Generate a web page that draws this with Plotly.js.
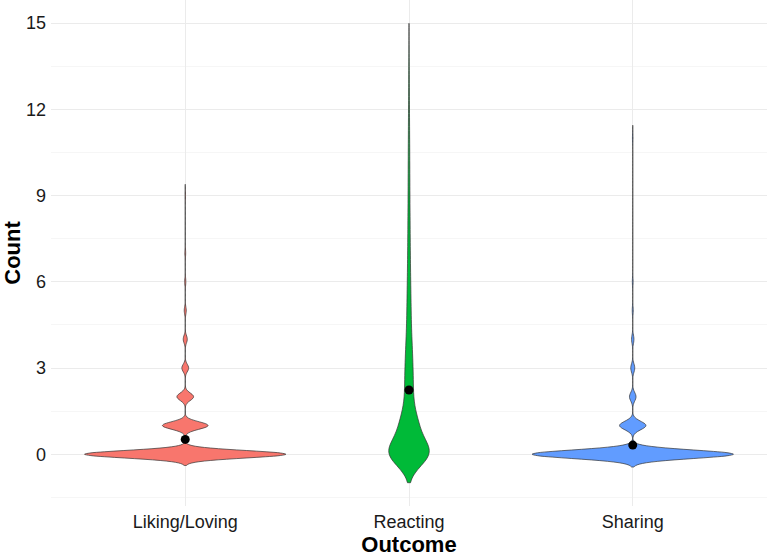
<!DOCTYPE html>
<html><head><meta charset="utf-8">
<script src="https://cdn.plot.ly/plotly-3.0.1.min.js"></script>
<style>html,body{margin:0;padding:0;background:#fff}#chart{width:767px;height:557px}</style>
</head><body><div id="chart"></div>
<script>
// ---- data (frequency tables) ----
const categories = ['Liking/Loving', 'Reacting', 'Sharing'];

const likingValues = [0, 1, 2, 3, 4, 5, 6, 7, 9];
const likingFreq   = [1181, 268, 98, 40, 24, 12, 7, 5, 3];

const reactingValues = [0, 0.5, 1, 1.5, 2, 2.5, 3, 3.5, 4, 4.5, 5, 5.5, 6, 6.5, 7, 7.5, 8, 8.5, 9, 9.5, 10, 10.5, 11, 11.5, 12, 12.5, 13, 13.5, 14];
const reactingFreq   = [1800, 450, 600, 250, 200, 210, 195, 170, 140, 110, 103, 93, 80, 71, 64, 58, 53, 48, 44, 41, 38, 35, 31, 27, 22, 18, 15, 13, 4];

const sharingValues = [0, 1, 2, 3, 4, 5, 6, 11];
const sharingFreq   = [1007, 132, 33, 20, 12, 5, 4, 3];

const yTickVals  = [0, 3, 6, 9, 12, 15];
const yMinorVals = [-1.5, 1.5, 4.5, 7.5, 10.5, 13.5];

// ---- helpers ----
function expand(vals, freqs) {
  const out = [];
  vals.forEach((v, i) => { for (let k = 0; k < freqs[i]; k++) out.push(v); });
  return out;
}
function mean(a) { return a.reduce((s, v) => s + v, 0) / a.length; }

const samples = [
  expand(likingValues, likingFreq),
  expand(reactingValues, reactingFreq),
  expand(sharingValues, sharingFreq)
];
const colors = ['#F8766D', '#00BA38', '#619CFF'];
const bws = [0.13, 0.45, 0.148];
const groups = ['ls', 'r', 'ls'];
const widths = [0.9, 0.18, 0.9];
const spanK = [3, 2.2, 3];

const traces = samples.map((y, i) => {
  let mn = Infinity, mx = -Infinity;
  y.forEach(v => { if (v < mn) mn = v; if (v > mx) mx = v; });
  return {
    type: 'violin', x0: categories[i], y: y, name: categories[i],
    bandwidth: bws[i], scalegroup: groups[i], scalemode: 'width', width: widths[i],
    spanmode: 'manual', span: [mn - spanK[i] * bws[i], mx + spanK[i] * bws[i]],
    points: false, box: { visible: false }, meanline: { visible: false },
    fillcolor: colors[i], line: { color: '#333333', width: 0.7 },
    showlegend: false, hoverinfo: 'skip', side: 'both'
  };
});

traces.push({
  type: 'scatter', mode: 'markers', x: categories, y: samples.map(mean),
  marker: { color: '#000000', size: 9 }, showlegend: false, hoverinfo: 'skip', cliponaxis: false
});

const layout = {
  width: 767, height: 557,
  margin: { l: 51, r: 0, t: 0, b: 51 },
  paper_bgcolor: '#ffffff', plot_bgcolor: '#ffffff',
  violinmode: 'overlay', violingap: 0, violingroupgap: 0,
  showlegend: false,
  font: { family: 'Liberation Sans, Arial, sans-serif', color: '#1a1a1a' },
  xaxis: {
    type: 'category', categoryorder: 'array', categoryarray: categories,
    range: [-0.6, 2.6], showgrid: true, gridcolor: '#EBEBEB', gridwidth: 1,
    zeroline: false, showline: false, ticks: '', tickfont: { size: 18, color: '#1a1a1a' },
    ticklabelstandoff: 3,
    title: { text: '<b>Outcome</b>', font: { size: 22, color: '#000000' }, standoff: 9 },
    automargin: false, fixedrange: true
  },
  yaxis: {
    range: [-1.8, 15.8], tickmode: 'array', tickvals: yTickVals, ticktext: yTickVals.map(String),
    showgrid: true, gridcolor: '#EBEBEB', gridwidth: 1, zeroline: false, showline: false,
    ticks: '', tickfont: { size: 18, color: '#1a1a1a' }, ticklabelstandoff: 4,
    minor: { tickmode: 'array', tickvals: yMinorVals, showgrid: true, gridcolor: '#F0F0F0', gridwidth: 0.6, ticks: '' },
    title: { text: '<b>Count</b>', font: { size: 22, color: '#000000' }, standoff: 6 },
    automargin: false, fixedrange: true
  }
};

Plotly.newPlot('chart', traces, layout, { displayModeBar: false, staticPlot: true });
</script>
</body></html>
